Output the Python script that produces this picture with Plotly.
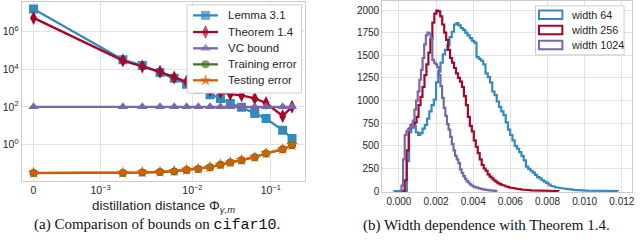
import numpy as np
import plotly.graph_objects as go

# ---------------- (a) comparison of bounds ----------------
distance = [0, 0.00175, 0.00285, 0.00444, 0.00634, 0.00865, 0.0119, 0.0168,
            0.0228, 0.0305, 0.0424, 0.0625, 0.0871, 0.142, 0.187]
lemma31 = [1.6e7, 3.2e4, 1.6e4, 6.7e3, 3.3e3, 1.6e3, 8.8e2, 4.4e2,
           2.8e2, 1.5e2, 94, 45, 24, 5.7, 2.1]
theorem14 = [5.4e6, 2.9e4, 1.4e4, 7.3e3, 3.7e3, 2.2e3, 1.26e3, 7.8e2,
             6.1e2, 4.8e2, 4.1e2, 2.8e2, 1.6e2, 33, 100]
vc_bound = [100, 100, 100, 100, 100, 100, 100, 100, 100, 100, 100, 100, 100, 100, 100]
training_error = [0.030, 0.030, 0.032, 0.034, 0.037, 0.044, 0.050, 0.062,
                  0.083, 0.109, 0.145, 0.21, 0.33, 0.55, 0.91]
testing_error = [0.031, 0.031, 0.033, 0.035, 0.038, 0.045, 0.051, 0.063,
                 0.085, 0.111, 0.148, 0.21, 0.34, 0.56, 0.93]
series_names = ["Lemma 3.1", "Theorem 1.4", "VC bound", "Training error", "Testing error"]
x_tick_values = [0, 1e-3, 1e-2, 1e-1]
x_tick_labels = ["0", "10<sup>−3</sup>", "10<sup>−2</sup>", "10<sup>−1</sup>"]
y_tick_values = [1, 1e2, 1e4, 1e6]
y_tick_labels = ["10<sup>0</sup>", "10<sup>2</sup>", "10<sup>4</sup>", "10<sup>6</sup>"]

# ---------------- (b) width dependence histograms ----------------
w64_range = (-0.0003, 0.0118)
w64_counts = [0, 0, 0, 0, 0, 0, 330, 650, 700, 720,
              650, 620, 640, 690, 730, 800, 880, 950, 1010, 1200,
              1320, 1420, 1510, 1560, 1610, 1700, 1760, 1840, 1855, 1830,
              1800, 1780, 1750, 1720, 1690, 1660, 1640, 1480, 1460, 1440,
              1400, 1300, 1260, 1200, 1100, 1060, 990, 930, 880, 840,
              760, 680, 620, 560, 500, 470, 430, 390, 340, 270,
              245, 225, 205, 180, 155, 140, 120, 105, 90, 72,
              58, 50, 43, 38, 34, 30, 27, 24, 20, 17,
              14, 12, 10, 8, 7, 6, 5, 4, 3, 3,
              2, 2, 1, 1, 1, 1, 0, 1, 0, 1]
w256_range = (0.0001, 0.0086)
w256_counts = [0, 5, 120, 450, 690, 730, 740, 760, 820, 950,
               1040, 1150, 1280, 1400, 1530, 1680, 1860, 1960, 1995, 1985,
               1930, 1840, 1750, 1670, 1560, 1470, 1420, 1360, 1300, 1250,
               1210, 1150, 1050, 950, 820, 720, 660, 560, 490, 420,
               350, 290, 250, 225, 185, 160, 140, 120, 105, 88,
               78, 68, 60, 52, 45, 40, 36, 32, 28, 24,
               20, 18, 15, 13, 11, 10, 8, 7, 6, 5,
               4, 4, 3, 2, 2, 2, 1, 1, 1, 1]
w1024_range = (0.00005, 0.0053)
w1024_counts = [2, 60, 350, 620, 660, 680, 700, 720, 780, 900,
                1000, 1100, 1230, 1340, 1470, 1620, 1720, 1750, 1740, 1690,
                1450, 1420, 1400, 1370, 1280, 1160, 1030, 920, 830, 740,
                680, 600, 520, 450, 390, 350, 310, 240, 200, 165,
                135, 110, 95, 75, 62, 52, 45, 38, 32, 28,
                24, 20, 17, 14, 11, 9, 7, 5, 3, 2]
hist_labels = ["width 64", "width 256", "width 1024"]
hist_x_ticks = [0.0, 0.002, 0.004, 0.006, 0.008, 0.010, 0.012]
hist_y_ticks = [0, 250, 500, 750, 1000, 1250, 1500, 1750, 2000]

BLUE, RED, PURPLE, GREEN, ORANGE = "#348ABD", "#A60628", "#7A68A6", "#467821", "#D55E00"
TXT = "#262626"
GRID = "#e3e3e3"
FRAME = "#cccccc"
SANS = "Liberation Sans, Arial, sans-serif"
SERIF = "Liberation Serif, Times New Roman, serif"

W, H = 640, 246
def px(x):
    return x / W
def py(y):
    return 1 - y / H

# symlog-like axis scale of the left panel (linear zero segment, log decades)
SCALE_LOG = [-3, -2, -1, 0]
SCALE_POS = [67.3, 159.6, 238.3, 317.0]
def xscale(v):
    v = np.asarray(v, dtype=float)
    out = np.zeros_like(v)
    m = v > 0
    out[m] = np.interp(np.log10(v[m]), SCALE_LOG, SCALE_POS)
    return out

fig = go.Figure()
xs = xscale(distance)
styles = [(BLUE, "square", 9), (RED, "diamond-tall", 10), (PURPLE, "triangle-up", 9),
          (GREEN, "circle", 8), (ORANGE, "star", 9)]
for name, vals, (col, sym, sz) in zip(series_names,
                                      [lemma31, theorem14, vc_bound, training_error, testing_error],
                                      styles):
    fig.add_trace(go.Scatter(
        x=xs, y=vals, name=name, mode="lines+markers",
        line=dict(color=col, width=2.3),
        marker=dict(symbol=sym, size=sz, color=col, line=dict(width=0)),
        xaxis="x", yaxis="y", showlegend=False))

def step_xy(rng, counts):
    edges = np.linspace(rng[0], rng[1], len(counts) + 1)
    x = np.repeat(edges, 2)
    y = np.concatenate([[0], np.repeat(np.asarray(counts, float), 2), [0]])
    return x, y

for (rng, cnt, col, lab) in [(w64_range, w64_counts, BLUE, hist_labels[0]),
                             (w256_range, w256_counts, RED, hist_labels[1]),
                             (w1024_range, w1024_counts, PURPLE, hist_labels[2])]:
    hx, hy = step_xy(rng, cnt)
    fig.add_trace(go.Scatter(x=hx, y=hy, mode="lines", name=lab,
                             line=dict(color=col, width=2.2),
                             xaxis="x2", yaxis="y2", showlegend=False))

# ---- legend of panel (a), drawn on a pixel overlay so rows match the original spacing
LEG_BOX = dict(x0=188, x1=303, y0=5, y1=95)
LEG_ROWS = [15.7, 32.7, 49.3, 65.7, 82.0]
fig.add_trace(go.Scatter(
    x=[LEG_BOX["x0"], LEG_BOX["x1"], LEG_BOX["x1"], LEG_BOX["x0"], LEG_BOX["x0"]],
    y=[LEG_BOX["y0"], LEG_BOX["y0"], LEG_BOX["y1"], LEG_BOX["y1"], LEG_BOX["y0"]],
    mode="lines", fill="toself", fillcolor="white", line=dict(color=FRAME, width=1),
    xaxis="x3", yaxis="y3", showlegend=False, hoverinfo="skip"))
annotations = []
for name, (col, sym, sz), ry in zip(series_names, styles, LEG_ROWS):
    fig.add_trace(go.Scatter(
        x=[194, 206.5, 219], y=[ry, ry, ry], mode="lines+markers",
        line=dict(color=col, width=2.3),
        marker=dict(symbol=sym, size=[0, sz, 0], color=col, line=dict(width=0)),
        xaxis="x3", yaxis="y3", showlegend=False, hoverinfo="skip"))
    annotations.append(dict(xref="paper", yref="paper", x=px(227.5), y=py(ry),
                            xanchor="left", yanchor="middle", showarrow=False, text=name,
                            font=dict(family=SANS, size=11.5, color=TXT)))

axis_common = dict(showgrid=True, gridcolor=GRID, gridwidth=1, zeroline=False,
                   showline=True, linecolor=FRAME, linewidth=1, mirror=True,
                   ticks="")
tf_left = dict(family=SANS, size=10.5, color=TXT)
tf_right = dict(family=SANS, size=10, color=TXT)

fig.update_layout(
    width=W, height=H,
    margin=dict(l=0, r=0, t=0, b=0),
    paper_bgcolor="white", plot_bgcolor="rgba(0,0,0,0)",
    showlegend=False,
    xaxis=dict(domain=[px(21.7), px(306)], range=[-12, 272.3],
               tickmode="array", tickvals=list(xscale(x_tick_values)),
               ticktext=x_tick_labels, anchor="y", tickfont=tf_left, **axis_common),
    yaxis=dict(domain=[py(184.3), py(2)], type="log", range=[-1.92, 7.58],
               tickmode="array", tickvals=y_tick_values, ticktext=y_tick_labels,
               anchor="x", tickfont=tf_left, **axis_common),
    xaxis2=dict(domain=[px(384), px(635)], range=[-0.0009, 0.01255],
                tickmode="array", tickvals=hist_x_ticks,
                ticktext=["%.3f" % v for v in hist_x_ticks], anchor="y2",
                tickfont=tf_right, **axis_common),
    yaxis2=dict(domain=[py(196), py(1)], range=[-10, 2100],
                tickmode="array", tickvals=hist_y_ticks, anchor="x2",
                tickfont=tf_right, **axis_common),
    xaxis3=dict(domain=[0, 1], range=[0, W], visible=False, anchor="y3", fixedrange=True),
    yaxis3=dict(domain=[0, 1], range=[H, 0], visible=False, anchor="x3", fixedrange=True),
)

# ---- legend of panel (b): outlined patches
shapes = [dict(type="rect", xref="paper", yref="paper",
               x0=px(538), x1=px(627), y0=py(56), y1=py(6),
               line=dict(color=FRAME, width=1), fillcolor="white", layer="above")]
rows = [15, 30.7, 46]
for (lab, col), ry in zip(zip(hist_labels, [BLUE, RED, PURPLE]), rows):
    shapes.append(dict(type="rect", xref="paper", yref="paper",
                       x0=px(541.5), x1=px(565), y0=py(ry + 4.3), y1=py(ry - 4.3),
                       line=dict(color=col, width=2), fillcolor="rgba(0,0,0,0)", layer="above"))
    annotations.append(dict(xref="paper", yref="paper", x=px(572), y=py(ry),
                            xanchor="left", yanchor="middle", showarrow=False, text=lab,
                            font=dict(family=SANS, size=10.8, color=TXT)))

annotations += [
    dict(xref="paper", yref="paper", x=px(164.5), y=py(211), xanchor="center", yanchor="middle",
         showarrow=False, text="distillation distance Φ<sub><i>γ,m</i></sub>",
         font=dict(family=SANS, size=13.5, color=TXT)),
    dict(xref="paper", yref="paper", x=px(157.5), y=py(230), xanchor="center", yanchor="middle",
         showarrow=False,
         text="(a) Comparison of bounds on <span style='font-family:Liberation Mono'>cifar10</span>.",
         font=dict(family=SERIF, size=15, color="#111111")),
    dict(xref="paper", yref="paper", x=px(488.5), y=py(230), xanchor="center", yanchor="middle",
         showarrow=False, text="(b) Width dependence with Theorem 1.4.",
         font=dict(family=SERIF, size=15, color="#111111")),
]
fig.update_layout(shapes=shapes, annotations=annotations)

fig.write_html("out.html",
               config={"displayModeBar": False, "staticPlot": True},
               post_script="document.body.style.margin='0';document.body.style.overflow='hidden';")
